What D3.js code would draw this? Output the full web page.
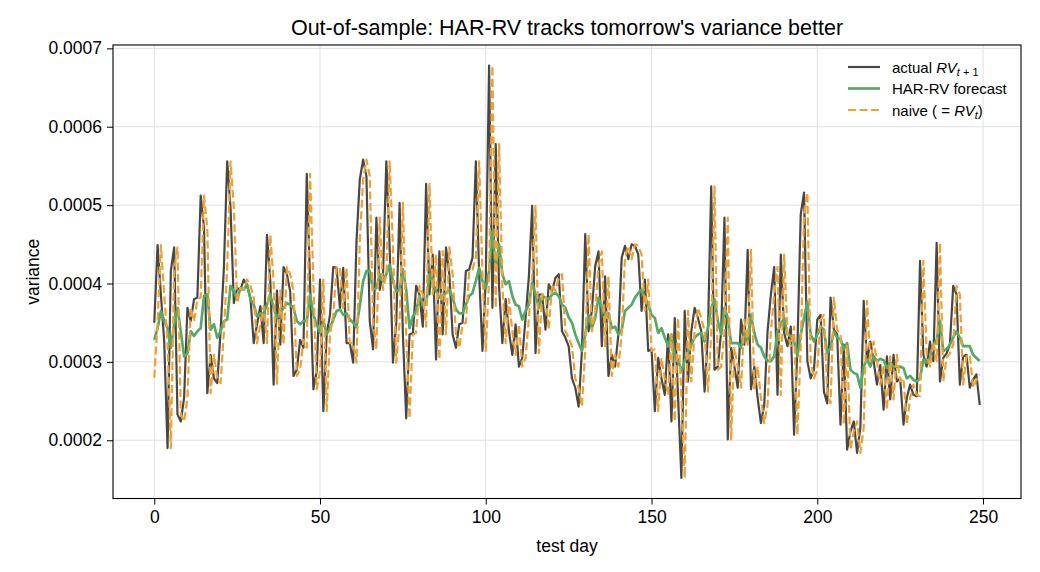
<!DOCTYPE html>
<html><head><meta charset="utf-8">
<script src="https://cdn.jsdelivr.net/npm/d3@7"></script>
<style>
body{margin:0;background:#fff}
svg{display:block}
text{font-family:"Liberation Sans",Arial,Helvetica,sans-serif;fill:#000}
</style>
</head><body>
<svg id="chart" width="1040" height="572"></svg>
<script>
// values are in units of 1e-4
const UNIT = 1e-4;
const actual = [
3.50,4.49,3.86,3.26,1.90,4.16,4.46,2.33,2.24,2.54,3.69,3.52,3.80,3.82,5.12,4.71,2.60,3.09,2.79,2.73,
3.39,4.20,5.56,4.97,3.75,3.94,3.92,4.05,3.97,3.82,3.24,3.48,3.71,3.24,4.62,4.03,2.71,3.91,3.22,4.21,
4.12,3.90,2.82,2.90,3.28,3.18,5.40,4.00,2.65,2.88,4.05,2.37,3.35,3.60,4.21,4.20,3.69,4.20,3.24,3.24,
2.99,4.54,5.33,5.58,5.37,3.52,3.16,4.84,3.92,4.12,5.56,4.46,2.99,3.50,5.03,3.35,2.28,3.35,3.37,3.97,
3.86,3.45,5.27,3.86,4.37,3.03,4.41,3.35,4.46,4.12,3.35,3.18,3.48,3.50,4.16,4.18,4.33,5.56,4.12,3.14,
4.07,6.78,3.69,5.78,3.97,3.24,3.80,3.39,3.09,3.48,2.94,3.05,3.56,4.09,4.99,3.11,3.86,3.86,3.41,3.99,
3.90,4.07,4.12,3.39,3.31,3.20,2.79,2.67,2.43,3.14,4.63,3.39,3.65,4.22,4.41,3.20,4.09,2.82,3.09,2.94,
3.35,4.33,4.48,4.31,4.50,4.48,4.37,3.65,4.05,3.14,3.16,2.37,3.05,2.79,2.58,3.35,2.24,3.56,2.56,1.52,
3.65,2.75,3.39,3.69,3.56,3.39,2.62,3.35,5.24,2.90,2.94,3.39,4.84,2.01,3.18,2.94,2.67,3.54,3.22,4.43,
2.65,2.94,2.54,2.22,2.45,3.39,3.86,4.21,2.58,4.37,3.37,3.20,3.45,2.07,3.18,4.88,5.16,3.01,2.79,2.90,
3.54,3.60,2.62,2.47,3.82,3.41,3.35,2.20,3.22,1.88,2.11,2.24,1.84,2.16,3.78,3.01,3.26,3.01,2.71,2.96,
2.39,3.07,2.52,3.09,2.75,2.79,2.20,2.54,2.71,2.58,2.56,4.29,3.09,2.94,3.26,3.01,4.52,2.75,3.05,3.11,
3.22,3.97,3.86,2.71,3.07,3.09,2.67,2.77,2.84,2.45
];
const harForecast = [
3.28,3.43,3.65,3.52,3.43,3.18,3.48,3.69,3.39,3.07,3.11,3.39,3.33,3.39,3.43,3.84,3.86,3.41,3.48,3.31,
3.39,3.52,3.54,3.97,3.90,3.80,3.94,3.92,3.99,3.80,3.73,3.58,3.62,3.62,3.73,3.86,3.69,3.56,3.62,3.69,
3.75,3.73,3.69,3.52,3.48,3.52,3.52,3.86,3.60,3.48,3.37,3.52,3.35,3.43,3.54,3.65,3.67,3.60,3.62,3.54,
3.50,3.44,3.72,4.03,4.16,4.16,3.92,3.94,4.12,4.03,4.12,4.24,4.03,3.90,3.92,4.18,3.92,3.43,3.58,3.65,
3.84,3.73,3.73,4.12,4.01,3.90,3.82,3.84,3.88,3.92,3.82,3.67,3.62,3.62,3.73,3.84,3.88,4.03,4.20,4.03,
3.94,4.16,4.67,4.20,4.50,4.12,3.99,4.03,3.84,3.73,3.71,3.54,3.65,3.73,4.01,3.86,3.69,3.84,3.82,3.80,
3.86,3.88,3.84,3.73,3.69,3.57,3.50,3.35,3.24,3.14,3.35,3.60,3.43,3.56,3.82,3.69,3.60,3.62,3.43,3.45,
3.35,3.41,3.65,3.69,3.73,3.82,3.88,3.92,3.82,3.73,3.60,3.56,3.37,3.43,3.31,3.20,3.35,3.08,3.03,2.88,
3.01,3.11,3.22,3.31,3.35,3.37,3.26,3.43,3.69,3.80,3.52,3.35,3.69,3.56,3.24,3.24,3.24,3.18,3.39,3.26,
3.60,3.37,3.22,3.18,3.07,3.01,3.01,3.07,3.39,3.48,3.56,3.35,3.33,3.26,3.07,3.35,3.56,3.77,3.35,3.26,
3.35,3.45,3.41,3.11,3.18,3.39,3.31,3.29,3.16,3.24,2.90,2.86,2.84,2.67,2.94,3.03,2.94,3.07,3.01,3.04,
3.02,2.92,2.99,2.94,2.94,2.94,2.92,2.79,2.82,2.77,2.75,2.79,3.03,2.99,3.05,3.20,3.28,3.52,3.14,3.16,
3.22,3.31,3.39,3.31,3.20,3.20,3.20,3.09,3.05,3.01
];
const naive = [
2.80,3.50,4.49,3.86,3.26,1.90,4.16,4.46,2.33,2.24,2.54,3.69,3.52,3.80,3.82,5.12,4.71,2.60,3.09,2.79,
2.73,3.39,4.20,5.56,4.97,3.75,3.94,3.92,4.05,3.97,3.82,3.24,3.48,3.71,3.24,4.62,4.03,2.71,3.91,3.22,
4.21,4.12,3.90,2.82,2.90,3.28,3.18,5.40,4.00,2.65,2.88,4.05,2.37,3.35,3.60,4.21,4.20,3.69,4.20,3.24,
3.24,2.99,4.54,5.33,5.58,5.37,3.52,3.16,4.84,3.92,4.12,5.56,4.46,2.99,3.50,5.03,3.35,2.28,3.35,3.37,
3.97,3.86,3.45,5.27,3.86,4.37,3.03,4.41,3.35,4.46,4.12,3.35,3.18,3.48,3.50,4.16,4.18,4.33,5.56,4.12,
3.14,4.07,6.78,3.69,5.78,3.97,3.24,3.80,3.39,3.09,3.48,2.94,3.05,3.56,4.09,4.99,3.11,3.86,3.86,3.41,
3.99,3.90,4.07,4.12,3.39,3.31,3.20,2.79,2.67,2.43,3.14,4.63,3.39,3.65,4.22,4.41,3.20,4.09,2.82,3.09,
2.94,3.35,4.33,4.48,4.31,4.50,4.48,4.37,3.65,4.05,3.14,3.16,2.37,3.05,2.79,2.58,3.35,2.24,3.56,2.56,
1.52,3.65,2.75,3.39,3.69,3.56,3.39,2.62,3.35,5.24,2.90,2.94,3.39,4.84,2.01,3.18,2.94,2.67,3.54,3.22,
4.43,2.65,2.94,2.54,2.22,2.45,3.39,3.86,4.21,2.58,4.37,3.37,3.20,3.45,2.07,3.18,4.88,5.16,3.01,2.79,
2.90,3.54,3.60,2.62,2.47,3.82,3.41,3.35,2.20,3.22,1.88,2.11,2.24,1.84,2.16,3.78,3.01,3.26,3.01,2.71,
2.96,2.39,3.07,2.52,3.09,2.75,2.79,2.20,2.54,2.71,2.58,2.56,4.29,3.09,2.94,3.26,3.01,4.52,2.75,3.05,
3.11,3.22,3.97,3.86,2.71,3.07,3.09,2.67,2.77,2.84
];
const xTickValues = [0, 50, 100, 150, 200, 250];
const yTickValues = [0.0002, 0.0003, 0.0004, 0.0005, 0.0006, 0.0007];
const titleText = "Out-of-sample: HAR-RV tracks tomorrow's variance better";
const xLabelText = "test day";
const yLabelText = "variance";

const W = 1040, H = 572;
const m = {left: 113, right: 1021, top: 45, bottom: 498.5};
const svg = d3.select("#chart");

const toSeries = arr => arr.map((v, i) => ({x: i, y: v * UNIT}));
const sActual = toSeries(actual), sHar = toSeries(harForecast), sNaive = toSeries(naive);
const all = sActual.concat(sHar, sNaive);

const n = actual.length - 1;
const xPad = 0.05 * n;
const x = d3.scaleLinear().domain([-xPad, n + xPad]).range([m.left, m.right]);
const yMin = d3.min(all, d => d.y), yMax = d3.max(all, d => d.y);
const yPad = 0.05 * (yMax - yMin);
const y = d3.scaleLinear().domain([yMin - yPad, yMax + yPad]).range([m.bottom, m.top]);

// grid
const grid = svg.append("g");
grid.selectAll("line.gx").data(xTickValues).enter().append("line")
  .attr("x1", d => x(d)).attr("x2", d => x(d)).attr("y1", m.top).attr("y2", m.bottom)
  .attr("stroke", "#dddddd").attr("stroke-width", 0.9);
grid.selectAll("line.gy").data(yTickValues).enter().append("line")
  .attr("x1", m.left).attr("x2", m.right).attr("y1", d => y(d)).attr("y2", d => y(d))
  .attr("stroke", "#dddddd").attr("stroke-width", 0.9);

// clip
svg.append("clipPath").attr("id", "clip").append("rect")
  .attr("x", m.left).attr("y", m.top).attr("width", m.right - m.left).attr("height", m.bottom - m.top);

const line = d3.line().x(d => x(d.x)).y(d => y(d.y));
const plot = svg.append("g").attr("clip-path", "url(#clip)");
const styles = {
  actual: {color: "#474747", width: 2.2, dash: null},
  har: {color: "#55a868", width: 2.7, dash: null},
  naive: {color: "#f0a030", width: 2.2, dash: "8,3.5"}
};
plot.append("path").datum(sActual).attr("d", line).attr("fill", "none")
  .attr("stroke", styles.actual.color).attr("stroke-width", styles.actual.width).attr("stroke-linejoin", "round");
plot.append("path").datum(sHar).attr("d", line).attr("fill", "none")
  .attr("stroke", styles.har.color).attr("stroke-width", styles.har.width).attr("stroke-linejoin", "round");
plot.append("path").datum(sNaive).attr("d", line).attr("fill", "none")
  .attr("stroke", styles.naive.color).attr("stroke-width", styles.naive.width)
  .attr("stroke-dasharray", styles.naive.dash).attr("stroke-linejoin", "round");

// axes
const xAxis = d3.axisBottom(x).tickValues(xTickValues).tickSize(6).tickPadding(6).tickFormat(d3.format("d"));
const yAxis = d3.axisLeft(y).tickValues(yTickValues).tickSize(6).tickPadding(5).tickFormat(d3.format(".4f"));
const gx = svg.append("g").attr("transform", `translate(0,${m.bottom})`).call(xAxis);
const gy = svg.append("g").attr("transform", `translate(${m.left},0)`).call(yAxis);
[gx, gy].forEach(g => {
  g.select(".domain").remove();
  g.selectAll(".tick line").attr("stroke", "#000").attr("stroke-width", 1);
  g.selectAll(".tick text").attr("fill", "#000").style("font-size", "17.5px")
    .style("font-family", '"Liberation Sans",Arial,sans-serif');
});

// frame
svg.append("rect").attr("x", m.left).attr("y", m.top).attr("width", m.right - m.left)
  .attr("height", m.bottom - m.top).attr("fill", "none").attr("stroke", "#000").attr("stroke-width", 1.1);

// labels
svg.append("text").attr("x", (m.left + m.right) / 2).attr("y", 35).attr("text-anchor", "middle")
  .style("font-size", "21.5px").text(titleText);
svg.append("text").attr("x", (m.left + m.right) / 2).attr("y", 552).attr("text-anchor", "middle")
  .style("font-size", "17.5px").text(xLabelText);
svg.append("text").attr("transform", `translate(39,${(m.top + m.bottom) / 2}) rotate(-90)`)
  .attr("text-anchor", "middle").style("font-size", "17.5px").text(yLabelText);

// legend
const leg = svg.append("g");
const legendItems = [
  {key: "actual", rowY: 67},
  {key: "har", rowY: 88.5},
  {key: "naive", rowY: 110}
];
legendItems.forEach(it => {
  const s = styles[it.key];
  leg.append("line").attr("x1", 848).attr("x2", 880).attr("y1", it.rowY).attr("y2", it.rowY)
    .attr("stroke", s.color).attr("stroke-width", s.width).attr("stroke-dasharray", s.dash);
});
const fs = "15px";
const t1 = leg.append("text").attr("x", 892).attr("y", 67 + 5.5).style("font-size", fs);
t1.append("tspan").text("actual ");
t1.append("tspan").style("font-style", "italic").text("RV");
t1.append("tspan").style("font-style", "italic").style("font-size", "11px").attr("dy", 3.5).text("t");
t1.append("tspan").style("font-size", "11px").text(" + 1");
leg.append("text").attr("x", 892).attr("y", 88.5 + 5.5).style("font-size", fs).text("HAR-RV forecast");
const t3 = leg.append("text").attr("x", 892).attr("y", 110 + 5.5).style("font-size", fs);
t3.append("tspan").text("naive ( = ");
t3.append("tspan").style("font-style", "italic").text("RV");
t3.append("tspan").style("font-style", "italic").style("font-size", "11px").attr("dy", 3.5).text("t");
t3.append("tspan").attr("dy", -3.5).text(")");
</script>
</body></html>
